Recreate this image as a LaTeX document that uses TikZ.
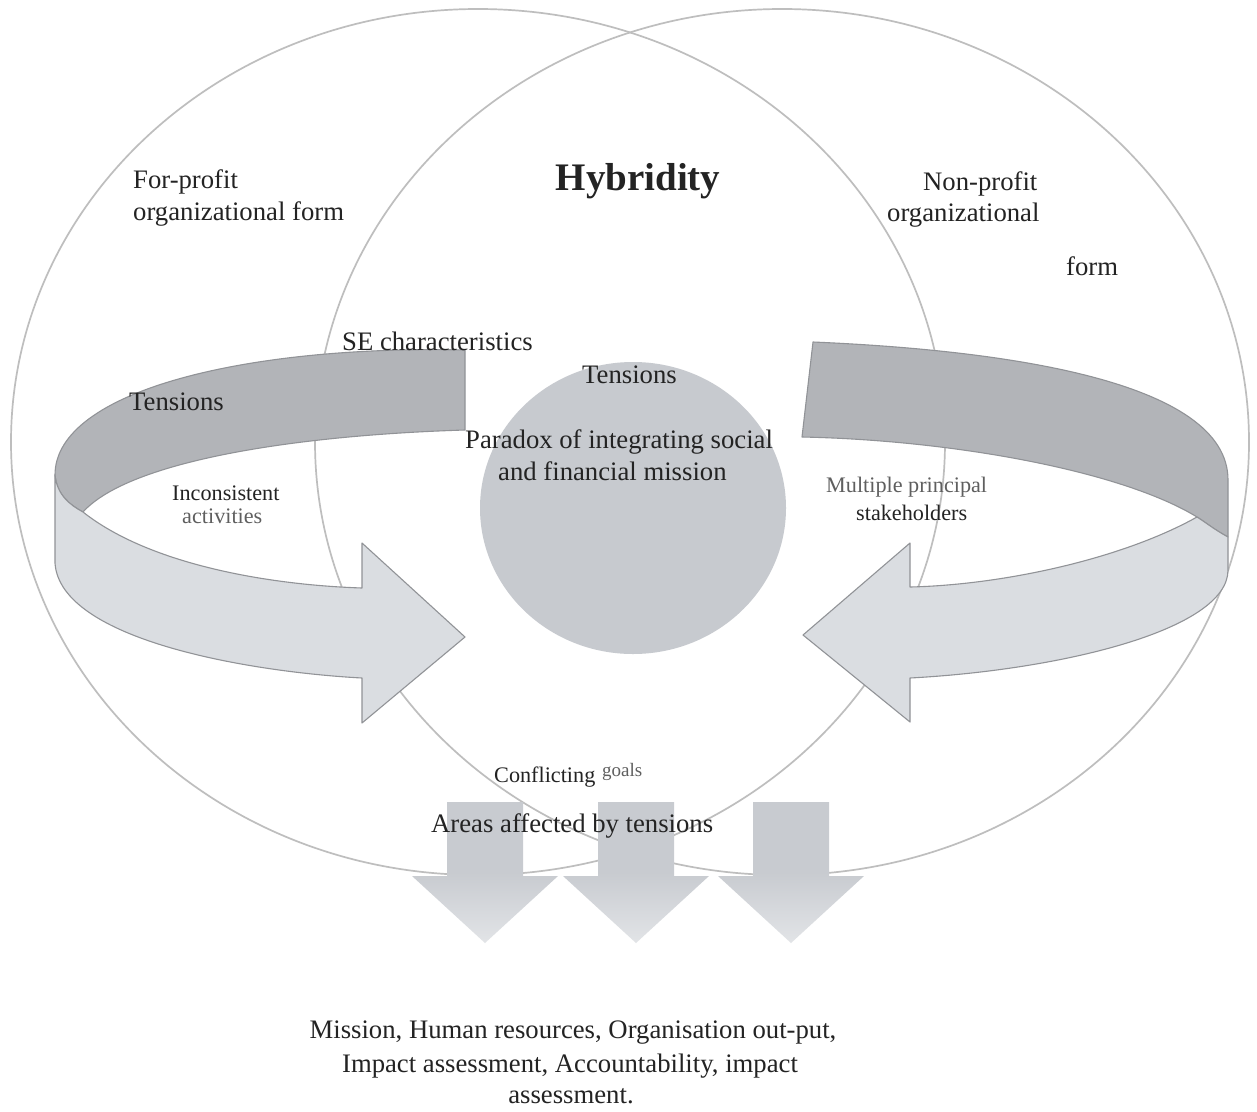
\documentclass[tikz,border=0pt]{standalone}
\usepackage{fontspec}
\setmainfont{Liberation Serif}
\definecolor{ringc}{RGB}{190,190,190}
\definecolor{darkband}{RGB}{178,180,184}
\definecolor{lightband}{RGB}{218,221,225}
\definecolor{edgec}{RGB}{145,147,151}
\definecolor{discc}{RGB}{199,202,207}
\definecolor{arrowc}{RGB}{200,203,208}
\definecolor{arrowfade}{RGB}{226,228,231}
\definecolor{txt}{RGB}{35,35,35}
\definecolor{softtxt}{RGB}{95,95,95}
\begin{document}
\begin{tikzpicture}[x=1pt,y=-1pt,
  ring/.style={draw=ringc,line width=1.7pt},
  band/.style={draw=edgec,line width=1.1pt,line join=round},
  lbl/.style={text=txt,inner sep=0pt,font=\fontsize{26.7}{31}\selectfont},
  slbl/.style={text=txt,inner sep=0pt,font=\fontsize{22.2}{26}\selectfont},
  downarrow/.style={top color=arrowc,bottom color=arrowfade,middle color=arrowc,draw=none}]
\useasboundingbox (0,0) rectangle (1257,1111);
\fill[white] (0,0) rectangle (1257,1111);

% two overlapping ovals
\draw[ring] (478,442) ellipse [x radius=467, y radius=433];
\draw[ring] (782,442) ellipse [x radius=467, y radius=433];

% central disc
\fill[discc] (633,508) ellipse [x radius=153, y radius=146];

% left ribbon arrow: back (dark) band
\filldraw[band,fill=darkband]
  (465,350) .. controls (250,345) and (55,390) .. (55,475)
  .. controls (57,495) and (70,505) .. (83,512)
  .. controls (130,460) and (300,435) .. (465,430) -- cycle;
% left ribbon arrow: front (light) band with head
\filldraw[band,fill=lightband]
  (55,475) .. controls (57,495) and (70,505) .. (83,512)
  .. controls (150,565) and (270,585) .. (362,588)
  -- (362,543) -- (465,637) -- (362,723) -- (362,678)
  .. controls (250,672) and (60,640) .. (55,563) -- cycle;

% right ribbon arrow: back (dark) band
\filldraw[band,fill=darkband]
  (813,342) .. controls (1000,350) and (1228,380) .. (1228,480)
  -- (1228,537) .. controls (1215,530) and (1205,522) .. (1197,517)
  .. controls (1120,470) and (950,440) .. (802,437) -- cycle;
% right ribbon arrow: front (light) band with head
\filldraw[band,fill=lightband]
  (1197,517) .. controls (1120,560) and (1000,585) .. (910,587)
  -- (910,543) -- (803,635) -- (910,722) -- (910,678)
  .. controls (1060,670) and (1228,630) .. (1228,570)
  -- (1228,537) .. controls (1215,530) and (1205,522) .. (1197,517) -- cycle;

% three downward arrows
\shade[downarrow] (447,802) -- (523,802) -- (523,876) -- (558,876) -- (485,943) -- (412,876) -- (447,876) -- cycle;
\shade[downarrow] (598,802) -- (674,802) -- (674,876) -- (709,876) -- (636,943) -- (563,876) -- (598,876) -- cycle;
\shade[downarrow] (753,802) -- (829,802) -- (829,876) -- (864,876) -- (791,943) -- (718,876) -- (753,876) -- cycle;

% labels
\node[lbl,anchor=base west] (fp1) at (133,188) {For-profit};
\node[lbl,anchor=base west] (fp2) at (133,220) {organizational form};
\node[lbl,anchor=base,font=\fontsize{39}{44}\selectfont\bfseries] (hyb) at (638,190) {Hybridity};
\node[lbl,anchor=base west] (np1) at (923,190) {Non-profit};
\node[lbl,anchor=base west] (np2) at (887,221) {organizational};
\node[lbl,anchor=base west] (np3) at (1066,275) {form};
\node[lbl,anchor=base west] (sec) at (342,350) {SE characteristics};
\node[lbl,anchor=base west] (tl) at (129,410) {Tensions};
\node[lbl,anchor=base west] (tc) at (582,383) {Tensions};
\node[lbl,anchor=base west] (par1) at (465,448) {Paradox of integrating social};
\node[lbl,anchor=base west] (par2) at (498,480) {and financial mission};
\node[slbl,anchor=base west] (inc1) at (172,500) {Inconsistent};
\node[slbl,anchor=base west,text=softtxt] (inc2) at (182,523) {activities};
\node[slbl,anchor=base west,text=softtxt] (mps1) at (826,492) {Multiple principal};
\node[slbl,anchor=base west] (mps2) at (856,520) {stakeholders};
\node[slbl,anchor=base west] (cg1) at (494,782) {Conflicting};
\node[slbl,anchor=base west,text=softtxt,font=\fontsize{19}{22}\selectfont] (cg2) at (602,776) {goals};
\node[lbl,anchor=base west] (aff) at (431,832) {Areas affected by tensions};
\node[lbl,anchor=base] (bot1) at (573,1038) {Mission, Human resources, Organisation out-put,};
\node[lbl,anchor=base] (bot2) at (570,1072) {Impact assessment, Accountability, impact};
\node[lbl,anchor=base] (bot3) at (571,1103) {assessment.};
\end{tikzpicture}
\end{document}
